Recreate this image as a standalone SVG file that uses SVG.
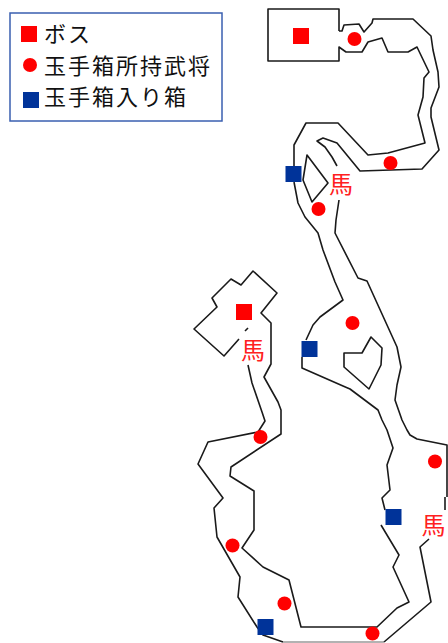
<svg xmlns="http://www.w3.org/2000/svg" width="448" height="643" viewBox="0 0 448 643">
<style>
.w{fill:none;stroke:#1a1a1a;stroke-width:1.6;stroke-linejoin:round}
.r{fill:#ff0000}
.b{fill:#003399}
.t{font-family:"Noto Sans CJK JP","Noto Sans CJK SC",sans-serif;font-size:22px;letter-spacing:2px;fill:#111}
.h{font-family:"Noto Sans CJK JP","Noto Sans CJK SC",sans-serif;font-size:24px;fill:#ff2020;text-anchor:middle}
</style>
<rect width="448" height="643" fill="#fff"/>
<g id="legend">
<rect x="10" y="13" width="212" height="108" fill="#fff" stroke="#3a5fb0" stroke-width="1.5"/>
<rect class="r" x="21" y="26" width="16" height="16"/>
<circle class="r" cx="30" cy="65" r="7"/>
<rect class="b" x="23" y="92" width="16" height="16"/>
<text class="t" x="44" y="42">ボス</text>
<text class="t" x="44" y="74">玉手箱所持武将</text>
<text class="t" x="44" y="105">玉手箱入り箱</text>
</g>
<g id="map">
<path class="w" d="M339,31 L339,9 L268,9 L268,61 L339,61 L339,47 L346,52 L362,52 L368,42 L382,38 L388,52 L408,52 L417,47 L429,72 L424,78 L423,97 L418,115 L425,143 L388,153 L368,155 L338,123 L306,123 L294,145 L294,166"/>
<path class="w" d="M339,31 L342,31 L344,25 L359,24 L364,32 L372,23 L373,19 L413,19 L431,36 L433,50 L438,72 L439,87 L431,108 L431,117 L439,150 L422,169 L360,171 L337,143 L323,138 L317,141 L325,147 L332,157 L337,166"/>
<path class="w" d="M294,182 L298,203 L305,217 L318,233 L323,250 L335,282 L343,300 L320,317 L313,325 L306,340"/>
<path class="w" d="M302,357 L302,368 L343,386 L350,389 L378,410 L382,420 L387,430 L393,448 L387,465 L390,490 L382,498 L385,510"/>
<path class="w" d="M381,525 L399,555 L393,567 L409,602 L397,608 L377,627 L301,627 L289,580 L263,567 L242,548 L254,530 L254,491 L230,476 L231,467 L281,434 L281,410 L278,402 L264,377 L271,364 L271,323 L261,313 L277,293 L253,271 L241,285 L231,279 L212,298 L217,307 L194,329 L224,356 L239,339"/>
<path class="w" d="M248,365 L252,383 L262,412 L265,421 L258,432 L208,442 L198,464 L223,498 L214,508 L217,537 L240,577 L238,597 L257,627 L263,635 L283,642"/>
<path d="M283,642 L384,642" fill="none" stroke="#999" stroke-width="1.5"/>
<path class="w" d="M384,642 L431,602 L420,547 L429,539"/>
<path class="w" d="M445,510 L445,497 M447,497 L447,445 L417,439 L410,435 L407,430 L402,420 L395,400 L397,385 L401,367 L397,347 L367,281 L358,278 L335,233 L336,220 L339,200"/>
<path class="w" d="M307,155 L328,183 L312,202 L303,180 Z"/>
<path class="w" d="M344,353 L362,353 L371,337 L382,348 L381,365 L369,389 L344,367 Z"/>
<path class="w" d="M245,331 L248,328"/>
</g>
<g id="markers">
<rect class="r" x="293" y="28" width="16" height="16"/>
<rect class="r" x="236" y="304" width="16" height="16"/>
<circle class="r" cx="354.500" cy="39" r="7"/>
<circle class="r" cx="390.500" cy="163" r="7"/>
<circle class="r" cx="318.500" cy="209" r="7"/>
<circle class="r" cx="352.500" cy="323" r="7"/>
<circle class="r" cx="260.500" cy="437" r="7"/>
<circle class="r" cx="232.500" cy="545.500" r="7"/>
<circle class="r" cx="284.500" cy="603.500" r="7"/>
<circle class="r" cx="372.500" cy="633.500" r="7"/>
<circle class="r" cx="435" cy="461.500" r="7"/>
<rect class="b" x="285.500" y="166" width="16" height="16"/>
<rect class="b" x="301.500" y="341" width="16" height="16"/>
<rect class="b" x="385.500" y="509" width="16" height="16"/>
<rect class="b" x="257.500" y="619" width="16" height="16"/>
<text class="h" x="341" y="193">馬</text>
<text class="h" x="253" y="359">馬</text>
<text class="h" x="433.500" y="534">馬</text>
</g>
</svg>
